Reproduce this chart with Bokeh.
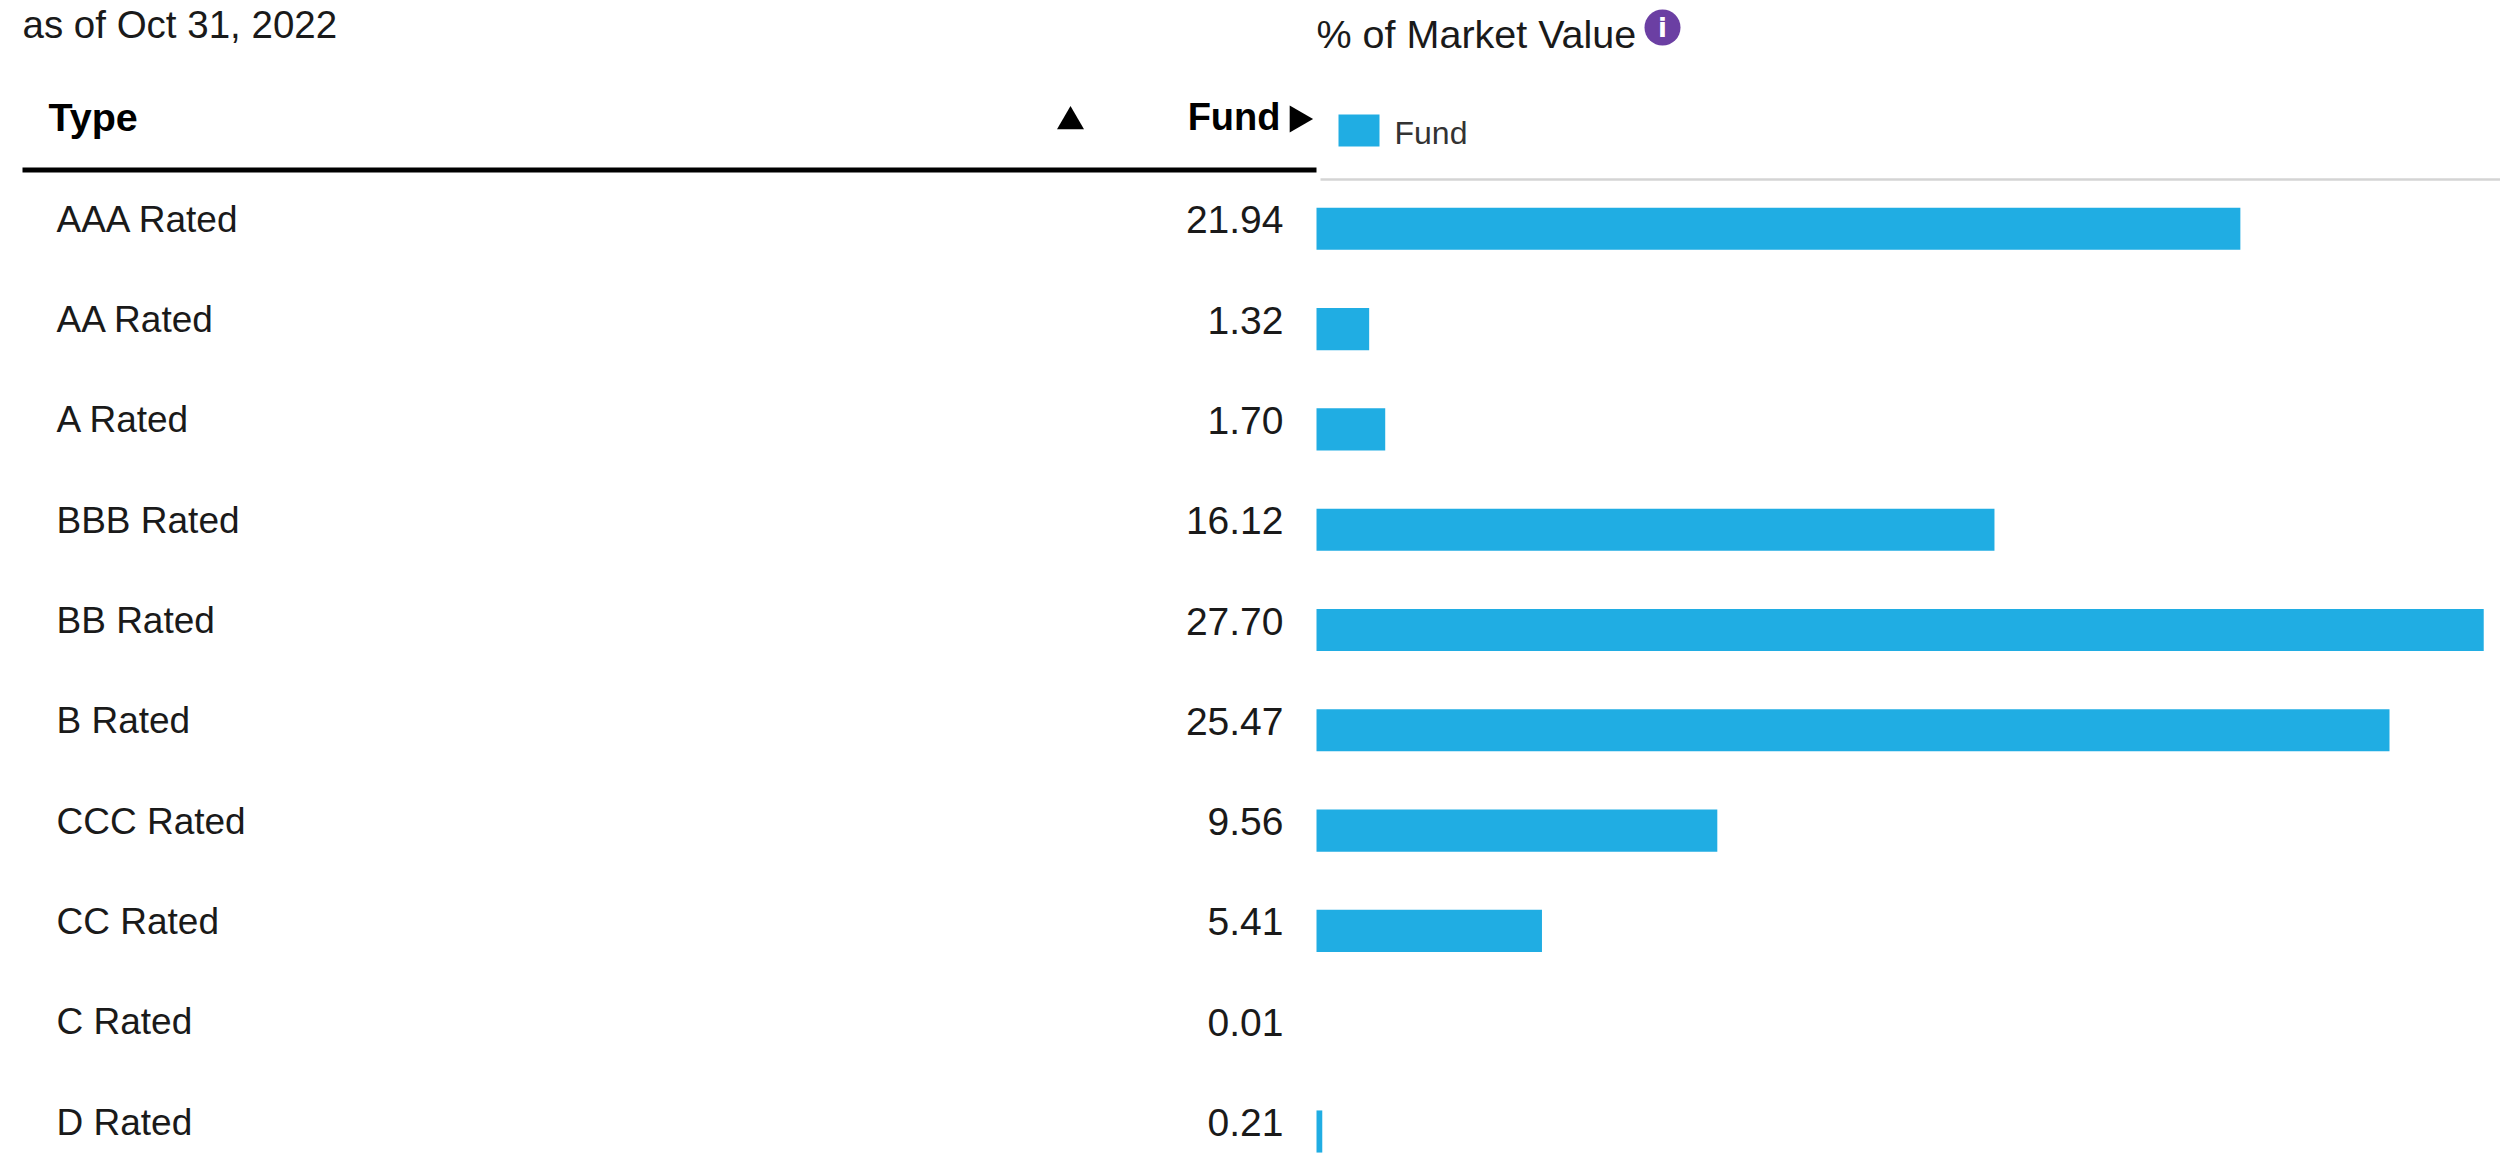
from bokeh.plotting import figure
from bokeh.models import Range1d, ColumnDataSource
from bokeh.core.properties import value
from bokeh.embed import file_html
from bokeh.resources import INLINE

types = ["AAA Rated", "AA Rated", "A Rated", "BBB Rated", "BB Rated",
         "B Rated", "CCC Rated", "CC Rated", "C Rated", "D Rated"]
fund = [21.94, 1.32, 1.70, 16.12, 27.70, 25.47, 9.56, 5.41, 0.01, 0.21]
as_of = "as of Oct 31, 2022"
chart_title = "% of Market Value"
series_name = "Fund"
col_type = "Type"
col_fund = "Fund"

W, H = 2500, 1162
FONT = "Liberation Sans"
BLUE = "#20ADE3"
INK = "#1a1a1a"
# value axis: 0 sits at x=1312.9, 42.25 px per unit; bars are clipped at x=1316
x0, k = 1312.9, 42.25
base = (1316 - x0) / k
# rows: first centre at y=228.3, pitch 100.3 px
y0, pitch = 228.3, 100.3

p = figure(width=W, height=H, output_backend="svg", toolbar_location=None,
           x_range=Range1d(-x0 / k, (W - x0) / k),
           y_range=Range1d((H - y0) / pitch, -y0 / pitch),
           x_axis_type="linear", min_border=0)
p.axis.visible = False
p.grid.visible = False
p.outline_line_color = None
p.background_fill_color = "white"
p.border_fill_color = "white"
p.extra_x_ranges = {"px": Range1d(0, W)}
p.extra_y_ranges = {"py": Range1d(H, 0)}

rows = list(range(len(types)))
src = ColumnDataSource(dict(
    row=rows, name=types, val=[f"{v:.2f}" for v in fund],
    left=[base] * len(fund), right=[max(v, base) for v in fund],
    lx=[56] * len(fund), vx=[1283] * len(fund)))

p.hbar(y="row", left="left", right="right", height=0.42, source=src,
       fill_color=BLUE, line_color=None)
p.text(x="lx", y="row", text="name", source=src, x_range_name="px", y_offset=-9.5,
       text_font=value(FONT), text_font_size="37px", text_color=INK,
       text_align="left", text_baseline="alphabetic")
p.text(x="vx", y="row", text="val", source=src, x_range_name="px", y_offset=-9,
       text_font=value(FONT), text_font_size="39px", text_color=INK,
       text_align="right", text_baseline="alphabetic")

def label(x, y, s, size="38px", style="normal", color=INK, align="left"):
    p.text(x=[x], y=[y], text=[s], x_range_name="px", y_range_name="py",
           text_font=value(FONT), text_font_size=size, text_font_style=style,
           text_color=color, text_align=align, text_baseline="alphabetic")

label(22, 24, as_of, size="38.5px")
label(1316, 33, chart_title, size="39.5px")
label(48, 116.5, col_type, size="39.5px", style="bold", color="black")
label(1280, 116.5, col_fund, size="38px", style="bold", color="black", align="right")
label(1394, 132, series_name, size="32px", color="#333333")

# header rules
p.segment(x0=[22], y0=[169.5], x1=[1316], y1=[169.5], x_range_name="px", y_range_name="py",
          line_color="black", line_width=5)
p.segment(x0=[1320], y0=[179], x1=[W], y1=[179], x_range_name="px", y_range_name="py",
          line_color="#D4D4D4", line_width=2.5)

# sort arrows
p.scatter(x=[1070], y=[121], size=27, marker="triangle", x_range_name="px", y_range_name="py",
          fill_color="black", line_color=None)
p.scatter(x=[1297], y=[118.5], size=27, marker="triangle", angle=-1.5708, x_range_name="px",
          y_range_name="py", fill_color="black", line_color=None)

# legend swatch
p.rect(x=[1358.5], y=[130], width=41, height=32, x_range_name="px", y_range_name="py",
       fill_color=BLUE, line_color=None)

# info icon
p.scatter(x=[1662], y=[27], size=36, marker="circle", x_range_name="px", y_range_name="py",
          fill_color="#6B3FA3", line_color=None)
p.text(x=[1662], y=[27], text=["i"], x_range_name="px", y_range_name="py",
       text_font=value("DejaVu Sans"), text_font_style="bold", text_font_size="26px",
       text_color="white", text_align="center", text_baseline="middle")

open("out.html", "w").write(file_html(p, INLINE))
